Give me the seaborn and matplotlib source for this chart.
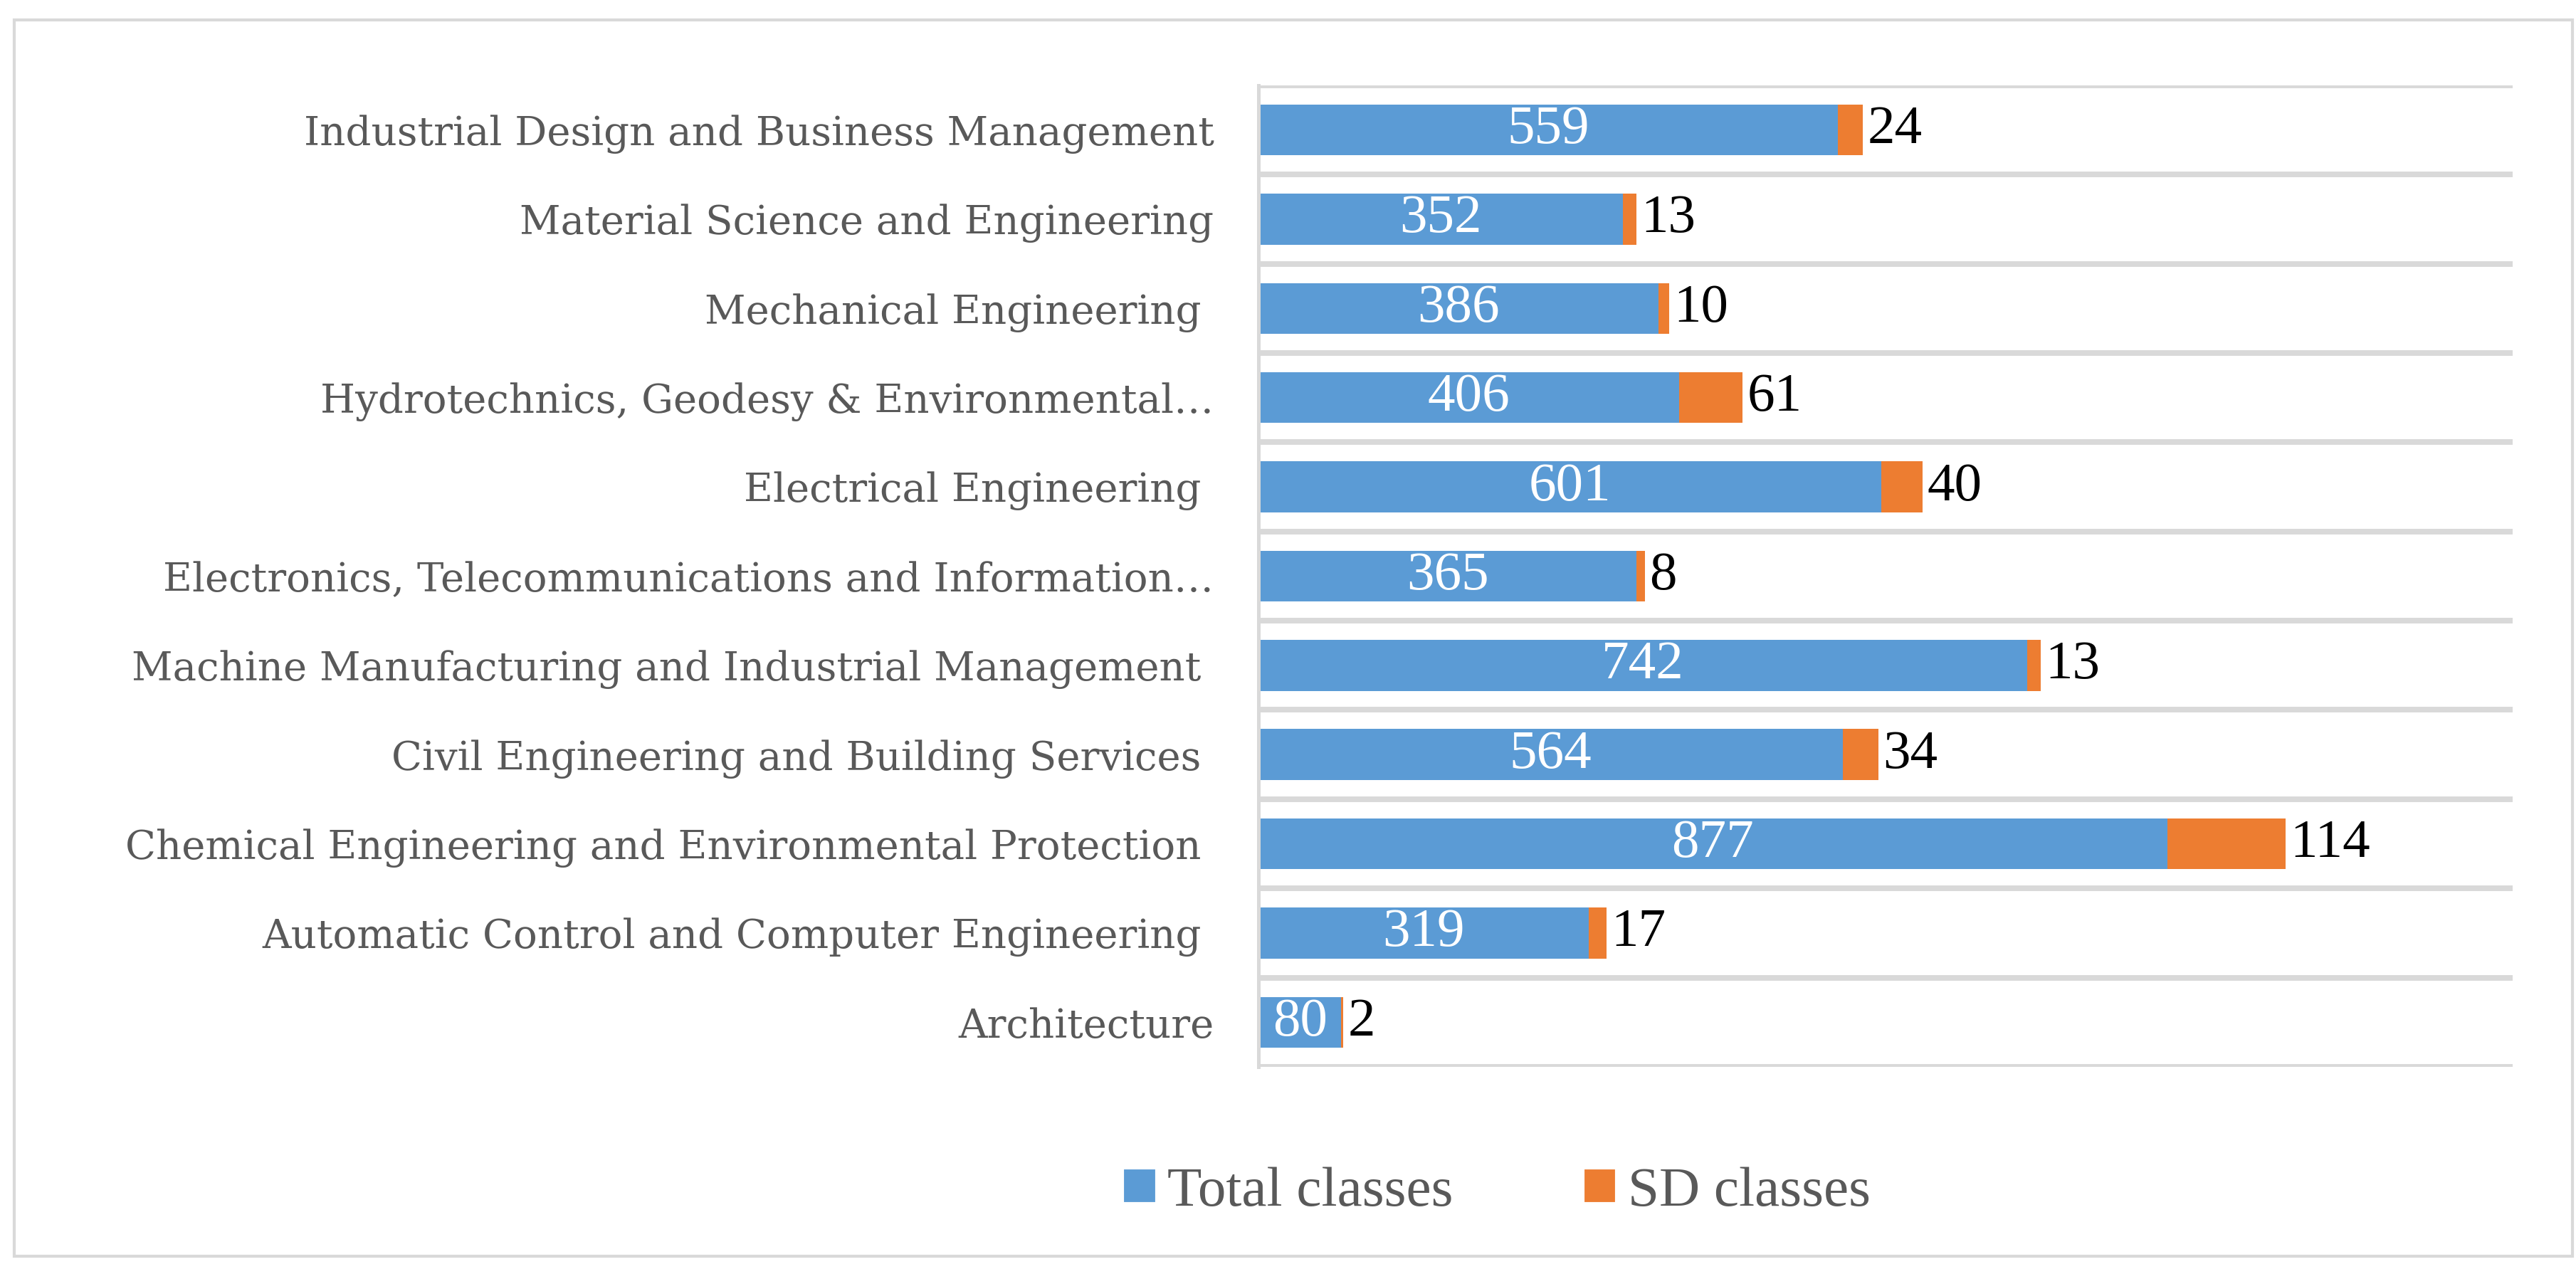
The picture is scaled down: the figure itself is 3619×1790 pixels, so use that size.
import pandas as pd
import seaborn as sns
import matplotlib.pyplot as plt
from matplotlib.patches import Rectangle, Patch

categories = [
    "Industrial Design and Business Management",
    "Material Science and Engineering",
    "Mechanical Engineering ",
    "Hydrotechnics, Geodesy & Environmental…",
    "Electrical Engineering ",
    "Electronics, Telecommunications and Information…",
    "Machine Manufacturing and Industrial Management ",
    "Civil Engineering and Building Services ",
    "Chemical Engineering and Environmental Protection ",
    "Automatic Control and Computer Engineering ",
    "Architecture",
]
total_classes = [559, 352, 386, 406, 601, 365, 742, 564, 877, 319, 80]
sd_classes = [24, 13, 10, 61, 40, 8, 13, 34, 114, 17, 2]

blue = '#5B9BD5'
orange = '#ED7D31'
grid_grey = '#D9D9D9'
text_grey = '#595959'

df = pd.DataFrame({'Faculty': categories,
                   'Total': total_classes,
                   'SD': sd_classes})
df['Stack'] = df['Total'] + df['SD']

sns.set_style('white')
plt.rcParams['font.family'] = ['Liberation Serif', 'DejaVu Serif']

fig = plt.figure(figsize=(3619 / 300, 1790 / 300), dpi=300)
ax = fig.add_axes([0.4885, 0.1626, 0.9754 - 0.4885, 0.933 - 0.1626])

# stacked bars: full stack in orange, blue total drawn over it
sns.barplot(data=df, x='Stack', y='Faculty', color=orange, saturation=1,
            width=0.57, orient='h', ax=ax, linewidth=0)
sns.barplot(data=df, x='Total', y='Faculty', color=blue, saturation=1,
            width=0.57, orient='h', ax=ax, linewidth=0)

for i, row in df.iterrows():
    ax.text(row['Total'] / 2, i, str(row['Total']), color='white',
            ha='center', va='center', fontsize=18.5)
    ax.annotate(str(row['SD']), xy=(row['Stack'], i), xytext=(1.5, 0),
                textcoords='offset points', ha='left', va='center',
                fontsize=18.5, color='black')

ax.set_xlim(0, 1210)
ax.set_ylim(len(categories) - 0.5, -0.5)
ax.set_xticks([])
ax.set_xlabel('')
ax.set_ylabel('')

# category separators
ax.set_yticks([k - 0.5 for k in range(len(categories) + 1)], minor=True)
ax.grid(True, which='minor', axis='y', color=grid_grey, linewidth=1.9)
ax.tick_params(axis='y', which='both', length=0, pad=15, labelsize=13.5,
               labelcolor=text_grey)
for lab in ax.get_yticklabels():
    lab.set_family('DejaVu Serif')

for side in ['top', 'right', 'bottom']:
    ax.spines[side].set_visible(False)
ax.spines['left'].set_color(grid_grey)
ax.spines['left'].set_linewidth(1.2)

handles = [Patch(facecolor=blue, label='Total classes'),
           Patch(facecolor=orange, label='SD classes')]
fig.legend(handles=handles, loc='center', bbox_to_anchor=(0.581, 0.064),
           ncol=2, frameon=False, fontsize=19, labelcolor=text_grey,
           handlelength=0.6, handleheight=0.6, handletextpad=0.2,
           columnspacing=2.3)

fig.patches.append(Rectangle((20 / 3619, 1 - 1765 / 1790),
                             (3614 - 20) / 3619, (1765 - 28) / 1790,
                             transform=fig.transFigure, fill=False,
                             edgecolor=grid_grey, linewidth=1.0))

plt.savefig('out.png', dpi=300)
